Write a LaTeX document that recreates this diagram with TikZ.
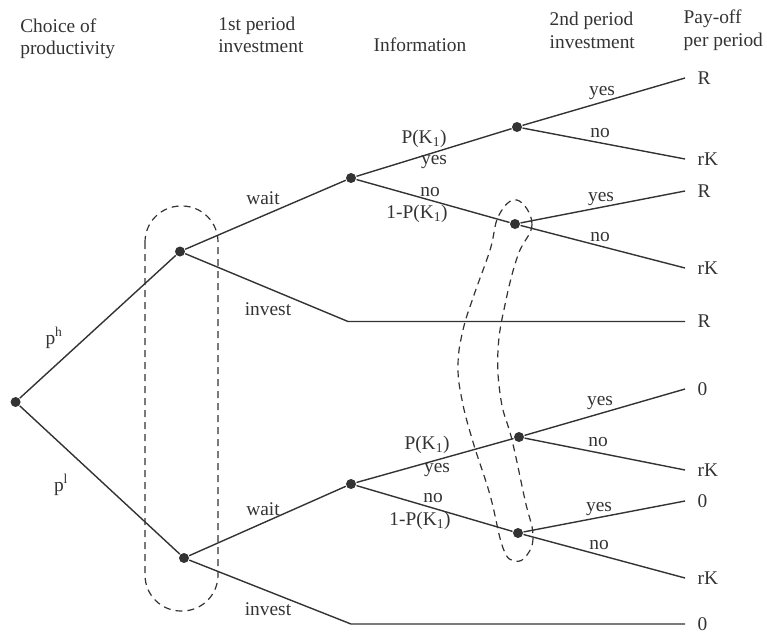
\documentclass[tikz,border=0pt]{standalone}
\usepackage{fontspec}
\setmainfont{Liberation Serif}
\usetikzlibrary{positioning}
\begin{document}
\begin{tikzpicture}[x=1pt, y=-1pt, line width=1.4pt, color=black!80,
    font=\fontsize{19.4}{22.5}\selectfont,
    dot/.style={circle, fill=black!80, inner sep=0pt, minimum size=10pt},
    lab/.style={inner sep=0pt},
    head/.style={anchor=base west, align=left, inner sep=0pt},
    pay/.style={inner sep=0pt, right=12pt of #1},
    infoset/.style={dash pattern=on 7pt off 5pt, line width=1.2pt}]
    \useasboundingbox (0,0) rectangle (767,634);

    % Column headings (base = last line)
    \node[head] (hc) at (19.6,54.6) {Choice of\\productivity};
    \node[head] (hf) at (217.6,52.6) {1st period\\investment};
    \node[head] (hi) at (373,51.4) {Information};
    \node[head] (hs) at (549,48.5) {2nd period\\investment};
    \node[head] (hp) at (683,46.5) {Pay-off\\per period};

    % Decision nodes with manual coordinates
    \node[dot] (r) at (15.6,402) {};
    \node[dot] (a) at (180,251.5) {};
    \node[dot] (b) at (184,558) {};
    \node[dot] (ai) at (351,178) {};
    \node[dot] (bi) at (351,484) {};
    \node[dot] (ay) at (517,127) {};
    \node[dot] (an) at (515,224) {};
    \node[dot] (by) at (519,437) {};
    \node[dot] (bn) at (518,533) {};

    % Ends of the branches
    \coordinate (ka) at (348,321.5);
    \coordinate (kb) at (351,624);
    \coordinate (e1) at (685,78);
    \coordinate (e2) at (685,159);
    \coordinate (e3) at (685,191);
    \coordinate (e4) at (685,268);
    \coordinate (e5) at (685,321.5);
    \coordinate (e6) at (685,389);
    \coordinate (e7) at (685,470);
    \coordinate (e8) at (685,501);
    \coordinate (e9) at (685,578);
    \coordinate (e10) at (685,624);

    % Pay-offs
    \node[pay=e1] (p1) {R};
    \node[pay=e2] (p2) {rK};
    \node[pay=e3] (p3) {R};
    \node[pay=e4] (p4) {rK};
    \node[pay=e5] (p5) {R};
    \node[pay=e6] (p6) {0};
    \node[pay=e7] (p7) {rK};
    \node[pay=e8] (p8) {0};
    \node[pay=e9] (p9) {rK};
    \node[pay=e10] (p10) {0};

    % Edges
    \draw (r) -- (a);
    \draw (r) -- (b);
    \draw (a) -- (ai);
    \draw (a) -- (ka) -- (e5);
    \draw (b) -- (bi);
    \draw (b) -- (kb) -- (e10);
    \draw (ai) -- (ay);
    \draw (ai) -- (an);
    \draw (bi) -- (by);
    \draw (bi) -- (bn);
    \draw (ay) -- (e1);
    \draw (ay) -- (e2);
    \draw (an) -- (e3);
    \draw (an) -- (e4);
    \draw (by) -- (e6);
    \draw (by) -- (e7);
    \draw (bn) -- (e8);
    \draw (bn) -- (e9);

    % Edge labels
    \node[lab] (lh) at (54,338) {p\textsuperscript{h}};
    \node[lab] (ll) at (61,485) {p\textsuperscript{l}};
    \node[lab] (lw1) at (263,198) {wait};
    \node[lab] (lv1) at (268,309) {invest};
    \node[lab] (lw2) at (263,509) {wait};
    \node[lab] (lv2) at (268,609) {invest};
    \node[lab] (q1) at (424,139) {P(K\textsubscript{1})};
    \node[lab] (y1) at (434,162) {yes};
    \node[lab] (n1) at (430,192) {no};
    \node[lab] (m1) at (417,214) {1-P(K\textsubscript{1})};
    \node[lab] (q2) at (427,445) {P(K\textsubscript{1})};
    \node[lab] (y2) at (437,470) {yes};
    \node[lab] (n2) at (433,498) {no};
    \node[lab] (m2) at (420,521) {1-P(K\textsubscript{1})};
    \node[lab] (sy1) at (602,93) {yes};
    \node[lab] (sn1) at (600,133) {no};
    \node[lab] (sy2) at (601,199) {yes};
    \node[lab] (sn2) at (600,237) {no};
    \node[lab] (sy3) at (600,403) {yes};
    \node[lab] (sn3) at (598,442) {no};
    \node[lab] (sy4) at (599,509) {yes};
    \node[lab] (sn4) at (599,545) {no};

    % Information sets
    \draw[infoset, rounded corners=36pt] (145,206) rectangle (218,611);
    \draw[infoset] plot[smooth cycle, tension=0.7] coordinates {(517,200) (532,224)
        (518,255) (506,300) (498,350) (501,400) (512,440) (525,500) (533,535)
        (527,555) (515,561) (503,548) (490,495) (473,442) (462,400) (458,365)
        (463,330) (474,295) (490,250) (499,215)};
\end{tikzpicture}
\end{document}
